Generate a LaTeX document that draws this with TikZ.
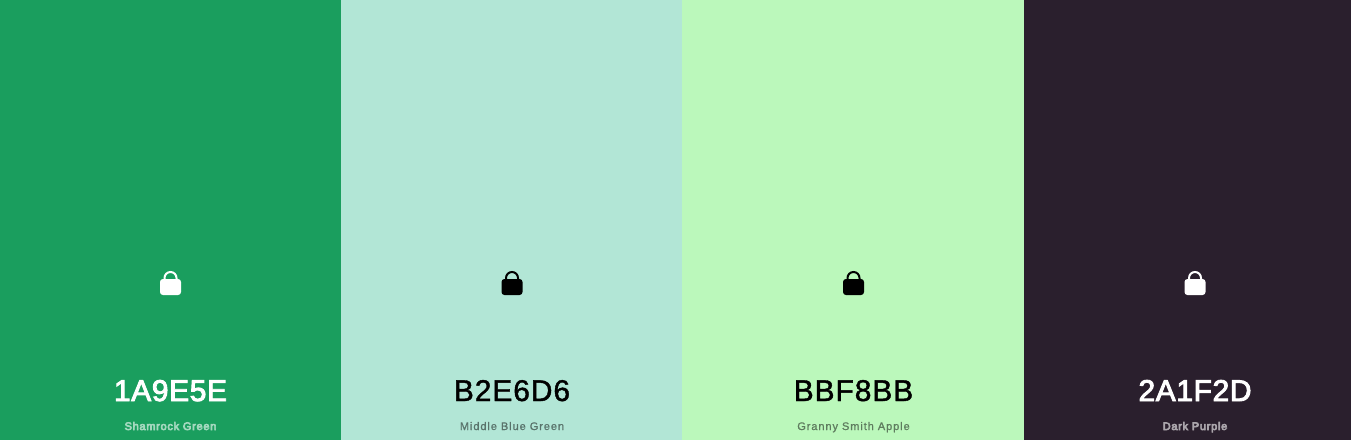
\documentclass[tikz,border=0pt]{standalone}
\usepackage{fontspec}
\setmainfont{Liberation Sans}
\newfontfamily\hexfont[FakeBold=1.3,LetterSpace=3]{Liberation Sans}
\newfontfamily\hexboldfont[FakeBold=3,LetterSpace=2]{Liberation Sans}
\newfontfamily\namefont[FakeBold=1,LetterSpace=8.5]{Liberation Sans}
\newfontfamily\nameboldfont[FakeBold=6,LetterSpace=6.5]{Liberation Sans}
\usetikzlibrary{positioning}
\definecolor{shamrock}{HTML}{1A9E5E}
\definecolor{bluegreen}{HTML}{B2E6D6}
\definecolor{smithapple}{HTML}{BBF8BB}
\definecolor{darkpurple}{HTML}{2A1F2D}
\tikzset{
  panel/.style={inner sep=0pt, minimum width=256.5pt, minimum height=330pt, anchor=south west},
  hexcode/.style={font=\fontsize{22.5}{26}\selectfont, inner sep=0pt, anchor=base},
  colname/.style={font=\fontsize{8.25}{10}\selectfont, inner sep=0pt, anchor=base},
  lockbody/.style={rounded corners=2.2pt},
  lockbow/.style={line width=1.5pt},
}
\begin{document}
\begin{tikzpicture}[x=0.75pt,y=0.75pt]
  \useasboundingbox (0,0) rectangle (1351,440);
  \foreach \n/\c/\x in {a/shamrock/0, b/bluegreen/341, c/smithapple/682, d/darkpurple/1024} {
    \node[panel, fill=\c] at (\x,0) (panel\n) {};
  }
  \foreach \n/\x/\t/\hex/\name/\sub/\hf/\nf in {a/170.5/white/1A9E5E/Shamrock Green/white!60!shamrock/\hexboldfont/\nameboldfont,
      b/512/black/B2E6D6/Middle Blue Green/black!50!bluegreen/\hexfont/\namefont,
      c/853.5/black/BBF8BB/Granny Smith Apple/black!50!smithapple/\hexfont/\namefont,
      d/1195/white/2A1F2D/Dark Purple/white!60!darkpurple/\hexboldfont/\nameboldfont} {
    \fill[\t, lockbody] (\x-10.5,145) rectangle (\x+10.5,161);
    \draw[\t, lockbow] (\x-6,158) -- (\x-6,162) arc (180:0:6) -- (\x+6,158);
    \node[hexcode, text=\t] at (\x,39) (hex\n) {\hf\hex};
    \node[colname, text=\sub] at (\x,10) (name\n) {\nf\name};
  }
\end{tikzpicture}
\end{document}
